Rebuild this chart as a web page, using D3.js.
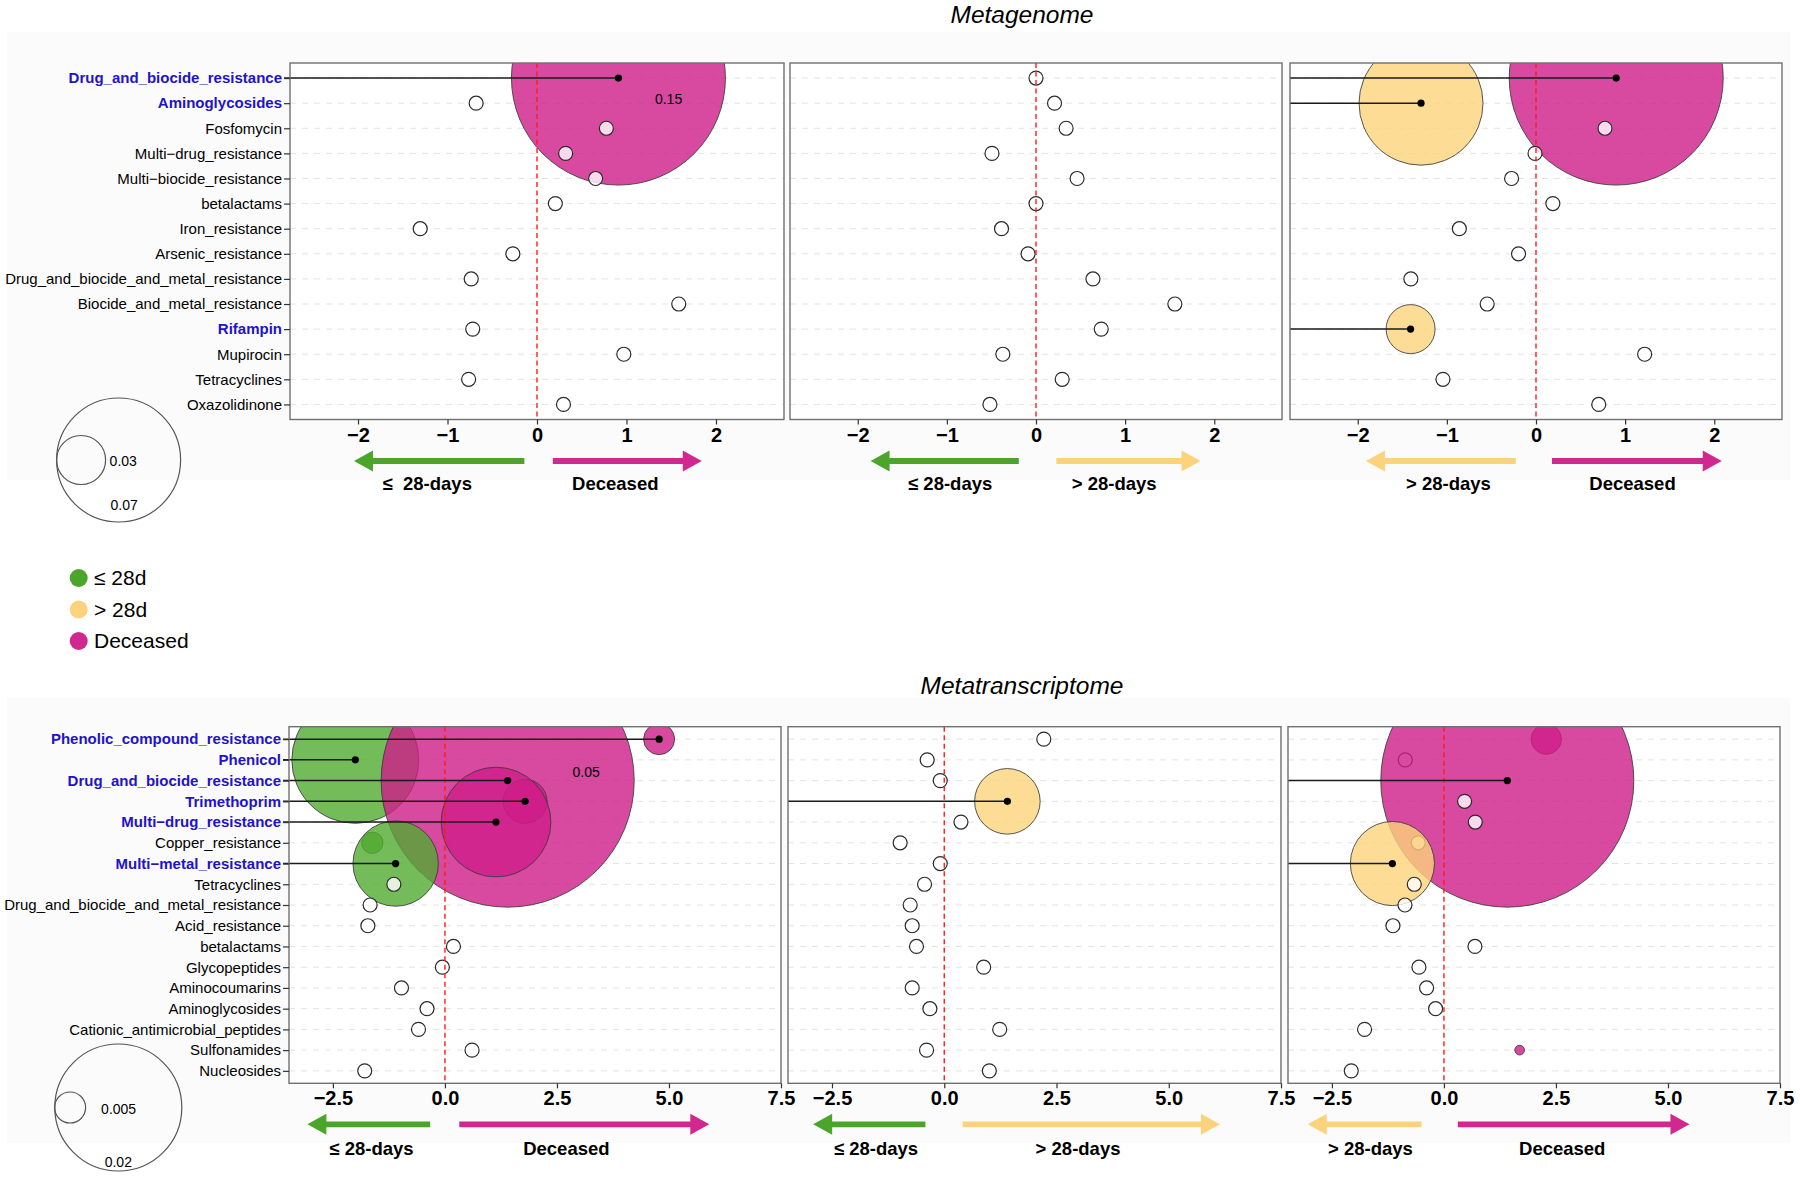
<!DOCTYPE html>
<html>
<head>
<meta charset="utf-8">
<script src="https://cdn.jsdelivr.net/npm/d3@7"></script>
<style>
  body { margin: 0; background: #fff; }
  svg { display: block; font-family: "Liberation Sans", Arial, Helvetica, sans-serif; }
  text { white-space: pre; }
</style>
</head>
<body>
<svg id="chart" width="1800" height="1177"></svg>
<script>
// ---------------- DATA ----------------
// Metagenome (top)
const mgCategories = ["Drug_and_biocide_resistance","Aminoglycosides","Fosfomycin","Multi\u2212drug_resistance","Multi\u2212biocide_resistance","betalactams","Iron_resistance","Arsenic_resistance","Drug_and_biocide_and_metal_resistance","Biocide_and_metal_resistance","Rifampin","Mupirocin","Tetracyclines","Oxazolidinone"];
const mgHighlighted = ["Drug_and_biocide_resistance","Aminoglycosides","Rifampin"];
const mgTicks = [-2, -1, 0, 1, 2];

// ≤28d vs Deceased
const mgEarlyVsDeceased     = [0.91, -0.68, 0.775, 0.32, 0.655, 0.205, -1.305, -0.27, -0.735, 1.584, -0.718, 0.97, -0.764, 0.296];
const mgEarlyVsDeceasedSize = [0.118, 0, 0, 0, 0, 0, 0, 0, 0, 0, 0, 0, 0, 0];
const mgEarlyVsDeceasedMark = [1, 0, 0, 0, 0, 0, 0, 0, 0, 0, 0, 0, 0, 0];
// ≤28d vs >28d
const mgEarlyVsLate     = [0.0, 0.208, 0.338, -0.494, 0.461, 0.0, -0.387, -0.089, 0.639, 1.558, 0.732, -0.372, 0.294, -0.517];
const mgEarlyVsLateSize = [0, 0, 0, 0, 0, 0, 0, 0, 0, 0, 0, 0, 0, 0];
const mgEarlyVsLateMark = [0, 0, 0, 0, 0, 0, 0, 0, 0, 0, 0, 0, 0, 0];
// >28d vs Deceased
const mgLateVsDeceased     = [0.9, -1.29, 0.774, -0.011, -0.274, 0.189, -0.86, -0.196, -1.404, -0.548, -1.407, 1.219, -1.044, 0.704];
const mgLateVsDeceasedSize = [0.118, 0.07, 0, 0, 0, 0, 0, 0, 0, 0, 0.03, 0, 0, 0];
const mgLateVsDeceasedMark = [1, 1, 0, 0, 0, 0, 0, 0, 0, 0, 1, 0, 0, 0];
const mgSizeLegend = [0.07, 0.03];

// Metatranscriptome (bottom)
const mtCategories = ["Phenolic_compound_resistance","Phenicol","Drug_and_biocide_resistance","Trimethoprim","Multi\u2212drug_resistance","Copper_resistance","Multi\u2212metal_resistance","Tetracyclines","Drug_and_biocide_and_metal_resistance","Acid_resistance","betalactams","Glycopeptides","Aminocoumarins","Aminoglycosides","Cationic_antimicrobial_peptides","Sulfonamides","Nucleosides"];
const mtHighlighted = ["Phenolic_compound_resistance","Phenicol","Drug_and_biocide_resistance","Trimethoprim","Multi\u2212drug_resistance","Multi\u2212metal_resistance"];
const mtTicks = [-2.5, 0, 2.5, 5, 7.5];

const mtEarlyVsDeceased     = [4.78, -2.0, 1.40, 1.79, 1.14, -1.62, -1.1, -1.14, -1.67, -1.72, 0.19, -0.057, -0.97, -0.40, -0.59, 0.605, -1.79];
const mtEarlyVsDeceasedSize = [0.005, 0.02, 0.0397, 0.007, 0.0173, 0.0035, 0.0135, 0, 0, 0, 0, 0, 0, 0, 0, 0, 0];
const mtEarlyVsDeceasedMark = [1, 1, 1, 1, 1, 0, 1, 0, 0, 0, 0, 0, 0, 0, 0, 0, 0];
const mtEarlyVsLate     = [2.217, -0.38, -0.089, 1.406, 0.372, -0.982, -0.089, -0.439, -0.759, -0.714, -0.618, 0.878, -0.714, -0.32, 1.235, -0.394, 1.004];
const mtEarlyVsLateSize = [0, 0, 0, 0.0104, 0, 0, 0, 0, 0, 0, 0, 0, 0, 0, 0, 0, 0];
const mtEarlyVsLateMark = [0, 0, 0, 1, 0, 0, 0, 0, 0, 0, 0, 0, 0, 0, 0, 0, 0];
const mtLateVsDeceased     = [2.284, -0.863, 1.414, 0.461, 0.699, -0.573, -1.15, -0.662, -0.87, -1.138, 0.692, -0.558, -0.387, -0.186, -1.771, 1.689, -2.068];
const mtLateVsDeceasedSize = [0.0049, 0, 0.0397, 0, 0, 0, 0.0133, 0, 0, 0, 0, 0, 0, 0, 0, 0.00167, 0];
const mtLateVsDeceasedMark = [0, 0, 1, 0, 0, 0, 1, 0, 0, 0, 0, 0, 0, 0, 0, 0, 0];
const mtSizeLegend = [0.02, 0.005];

const groupNames = ["\u2264 28d", "> 28d", "Deceased"];
const groupKeys = ["early", "late", "dead"];

// ---------------- STYLE / LAYOUT ----------------
const fillColor = { early: "#51AA31", late: "#FCD37B", dead: "#CE1D88" };
const solidColor = { early: "#4BA52B", late: "#FDD27C", dead: "#D0288E" };
const BLUE = "#2212c8";

const svg = d3.select("#chart");
svg.append("rect").attr("width", 1800).attr("height", 1177).attr("fill", "#fff");
svg.append("rect").attr("x", 7).attr("y", 32).attr("width", 1783).attr("height", 448).attr("fill", "#fbfbfb");
svg.append("rect").attr("x", 7).attr("y", 698).attr("width", 1783).attr("height", 445).attr("fill", "#fbfbfb");

const sections = [
  {
    title: "Metagenome", titleY: 23, cats: mgCategories, hl: mgHighlighted, ticks: mgTicks,
    fmt: d3.format("d"), top: 63, bottom: 419.5, domain: [-2.76, 2.76],
    rScale: d3.scaleLinear().domain([0.03, 0.07]).range([24.5, 62]),
    arrowY: 461, arrowLabelY: 490,
    note: { text: "0.15", panel: 0, x: 1.47, row: 0.82 },
    legend: { values: mgSizeLegend, cx: 118.6, cy: 460, left: 56.6,
              labels: [{ dx: 5.5, dy: 50, anchor: "middle", which: 0 }, { dx: 4, dy: 5.5, anchor: "start", which: 1 }] },
    panels: [
      { range: [290, 784], v: mgEarlyVsDeceased, s: mgEarlyVsDeceasedSize, m: mgEarlyVsDeceasedMark, groups: ["early", "dead"],
        arrows: [[-2.045, -0.141], [0.177, 1.841]], labels: ["\u2264  28-days", "Deceased"], labelX: [-1.226, 0.875] },
      { range: [790, 1282], v: mgEarlyVsLate, s: mgEarlyVsLateSize, m: mgEarlyVsLateMark, groups: ["early", "late"],
        arrows: [[-1.856, -0.193], [0.228, 1.846]], labels: ["\u2264 28-days", "> 28-days"], labelX: [-0.963, 0.878] },
      { range: [1290, 1782], v: mgLateVsDeceased, s: mgLateVsDeceasedSize, m: mgLateVsDeceasedMark, groups: ["late", "dead"],
        arrows: [[-1.908, -0.226], [0.179, 2.084]], labels: ["> 28-days", "Deceased"], labelX: [-0.982, 1.083] }
    ]
  },
  {
    title: "Metatranscriptome", titleY: 694, cats: mtCategories, hl: mtHighlighted, ticks: mtTicks,
    fmt: d3.format(".1f"), top: 726.7, bottom: 1083.3, domain: [-3.48, 7.5],
    rScale: d3.scaleLinear().domain([0.005, 0.02]).range([15.5, 63.5]),
    arrowY: 1124.3, arrowLabelY: 1154.5,
    note: { text: "0.05", panel: 0, x: 3.15, row: 1.6 },
    legend: { values: mtSizeLegend, cx: 118.3, cy: 1107.5, left: 54.6,
              labels: [{ dx: 0, dy: 59.5, anchor: "middle", which: 0 }, { dx: 15.5, dy: 6.5, anchor: "start", which: 1 }] },
    panels: [
      { range: [289, 781], v: mtEarlyVsDeceased, s: mtEarlyVsDeceasedSize, m: mtEarlyVsDeceasedMark, groups: ["early", "dead"],
        arrows: [[-3.07, -0.33], [0.32, 5.9]], labels: ["\u2264 28-days", "Deceased"], labelX: [-1.64, 2.71] },
      { range: [788, 1281], v: mtEarlyVsLate, s: mtEarlyVsLateSize, m: mtEarlyVsLateMark, groups: ["early", "late"],
        arrows: [[-2.92, -0.42], [0.41, 6.14]], labels: ["\u2264 28-days", "> 28-days"], labelX: [-1.52, 2.98] },
      { range: [1288, 1780], v: mtLateVsDeceased, s: mtLateVsDeceasedSize, m: mtLateVsDeceasedMark, groups: ["late", "dead"],
        arrows: [[-3.04, -0.5], [0.31, 5.48]], labels: ["> 28-days", "Deceased"], labelX: [-1.64, 2.64] }
    ]
  }
];

let clipId = 0;
sections.forEach(sec => {
  const y = d3.scalePoint().domain(sec.cats).range([sec.top, sec.bottom]).padding(0.6);

  svg.append("text").attr("x", 1022).attr("y", sec.titleY)
    .attr("text-anchor", "middle").attr("font-size", 24.5).attr("font-style", "italic").text(sec.title);

  sec.panels.forEach((p, pi) => {
    const x = d3.scaleLinear().domain(sec.domain).range(p.range);
    const [L, R] = p.range;
    const W = R - L, H = sec.bottom - sec.top;
    const g = svg.append("g");
    const id = "clip" + (clipId++);
    g.append("clipPath").attr("id", id).append("rect")
      .attr("x", L).attr("y", sec.top).attr("width", W).attr("height", H);

    g.append("rect").attr("x", L).attr("y", sec.top).attr("width", W).attr("height", H).attr("fill", "#fff");

    const inner = g.append("g").attr("clip-path", `url(#${id})`);
    // gridlines
    inner.selectAll("line.grid").data(sec.cats).join("line")
      .attr("x1", L).attr("x2", R).attr("y1", d => y(d)).attr("y2", d => y(d))
      .attr("stroke", "#e3e3e3").attr("stroke-width", 1).attr("stroke-dasharray", "6,6");

    // markers in row order
    const rows = sec.cats.map((c, i) => ({ c, v: p.v[i], s: p.s[i], m: p.m[i] }));
    rows.forEach(d => {
      if (d.s > 0) {
        const grp = d.v < 0 ? p.groups[0] : p.groups[1];
        inner.append("circle").attr("cx", x(d.v)).attr("cy", y(d.c)).attr("r", sec.rScale(d.s))
          .attr("fill", fillColor[grp]).attr("fill-opacity", 0.8)
          .attr("stroke", "#3a3a3a").attr("stroke-opacity", 0.85).attr("stroke-width", 1);
      } else {
        inner.append("circle").attr("cx", x(d.v)).attr("cy", y(d.c)).attr("r", 7)
          .attr("fill", "#fff").attr("fill-opacity", 0.8)
          .attr("stroke", "#2a2a2a").attr("stroke-width", 1.2);
      }
    });

    // zero line
    inner.append("line").attr("x1", x(0)).attr("x2", x(0)).attr("y1", sec.top).attr("y2", sec.bottom)
      .attr("stroke", "#ff1a1a").attr("stroke-width", 1.4).attr("stroke-dasharray", "5,3.5");

    // marked segments + dots
    const x0 = pi === 0 ? L - 6 : L;
    rows.filter(d => d.m).forEach(d => {
      g.append("line").attr("x1", x0).attr("x2", x(d.v)).attr("y1", y(d.c)).attr("y2", y(d.c))
        .attr("stroke", "#1a1a1a").attr("stroke-width", 1.5);
      g.append("circle").attr("cx", x(d.v)).attr("cy", y(d.c)).attr("r", 3.6).attr("fill", "#000");
    });

    // note label
    if (sec.note.panel === pi) {
      g.append("text").attr("x", x(sec.note.x)).attr("y", y(sec.cats[0]) + sec.note.row * y.step() + 5)
        .attr("text-anchor", "middle").attr("font-size", 14).text(sec.note.text);
    }

    // frame
    g.append("rect").attr("x", L).attr("y", sec.top).attr("width", W).attr("height", H)
      .attr("fill", "none").attr("stroke", "#707070").attr("stroke-width", 1.4);

    // x axis
    const ax = g.append("g").attr("transform", `translate(0,${sec.bottom})`)
      .call(d3.axisBottom(x).tickValues(sec.ticks).tickFormat(sec.fmt).tickSize(5).tickPadding(3));
    ax.select(".domain").remove();
    ax.selectAll(".tick line").attr("stroke", "#333").attr("stroke-width", 1.2);
    ax.selectAll(".tick text").attr("font-size", 20).attr("font-weight", "bold").attr("fill", "#000")
      .attr("font-family", "'Liberation Sans', Arial, sans-serif");

    // y axis on first panel
    if (pi === 0) {
      const ay = g.append("g").attr("transform", `translate(${L},0)`)
        .call(d3.axisLeft(y).tickSize(6).tickPadding(2));
      ay.select(".domain").remove();
      ay.selectAll(".tick line").attr("stroke", "#333").attr("stroke-width", 1.2);
      ay.selectAll(".tick text").attr("font-size", 15)
        .attr("font-family", "'Liberation Sans', Arial, sans-serif")
        .attr("font-weight", d => sec.hl.includes(d) ? "bold" : "normal")
        .attr("fill", d => sec.hl.includes(d) ? BLUE : "#000");
    }

    // direction arrows
    p.arrows.forEach((a, ai) => {
      const col = solidColor[p.groups[ai]];
      const yA = sec.arrowY, hl = 19, hh = 10.5, sw = 2.9;
      let path;
      if (ai === 0) { // pointing left: tip at a[0]
        const tip = x(a[0]), tail = x(a[1]), base = tip + hl;
        path = `M${tip},${yA}L${base},${yA - hh}L${base},${yA - sw}L${tail},${yA - sw}L${tail},${yA + sw}L${base},${yA + sw}L${base},${yA + hh}Z`;
      } else { // pointing right: tip at a[1]
        const tail = x(a[0]), tip = x(a[1]), base = tip - hl;
        path = `M${tip},${yA}L${base},${yA - hh}L${base},${yA - sw}L${tail},${yA - sw}L${tail},${yA + sw}L${base},${yA + sw}L${base},${yA + hh}Z`;
      }
      g.append("path").attr("d", path).attr("fill", col);
      g.append("text").attr("x", x(p.labelX[ai])).attr("y", sec.arrowLabelY)
        .attr("text-anchor", "middle").attr("font-size", 18.5).attr("font-weight", "bold").text(p.labels[ai]);
    });
  });

  // size legend
  const lg = sec.legend;
  const lgG = svg.append("g");
  lg.values.forEach((v, i) => {
    const r = sec.rScale(v);
    const cx = i === 0 ? lg.cx : lg.left + r;
    lgG.append("circle").attr("cx", cx).attr("cy", lg.cy).attr("r", r)
      .attr("fill", "none").attr("stroke", "#555").attr("stroke-width", 1.2);
  });
  lg.labels.forEach(l => {
    const v = lg.values[l.which], r = sec.rScale(v);
    const cx = l.which === 0 ? lg.cx : lg.left + r;
    const lx = l.anchor === "middle" ? cx + l.dx : cx + r + l.dx;
    lgG.append("text").attr("x", lx).attr("y", lg.cy + l.dy)
      .attr("text-anchor", l.anchor).attr("font-size", 14).text(v);
  });
});

// colour legend
const cl = svg.append("g");
const clY = d3.scalePoint().domain(groupKeys).range([578, 641]);
groupKeys.forEach((k, i) => {
  cl.append("circle").attr("cx", 78.7).attr("cy", clY(k)).attr("r", 9).attr("fill", solidColor[k]);
  cl.append("text").attr("x", 94).attr("y", clY(k) + 7).attr("font-size", 21).text(groupNames[i]);
});
</script>
</body>
</html>
